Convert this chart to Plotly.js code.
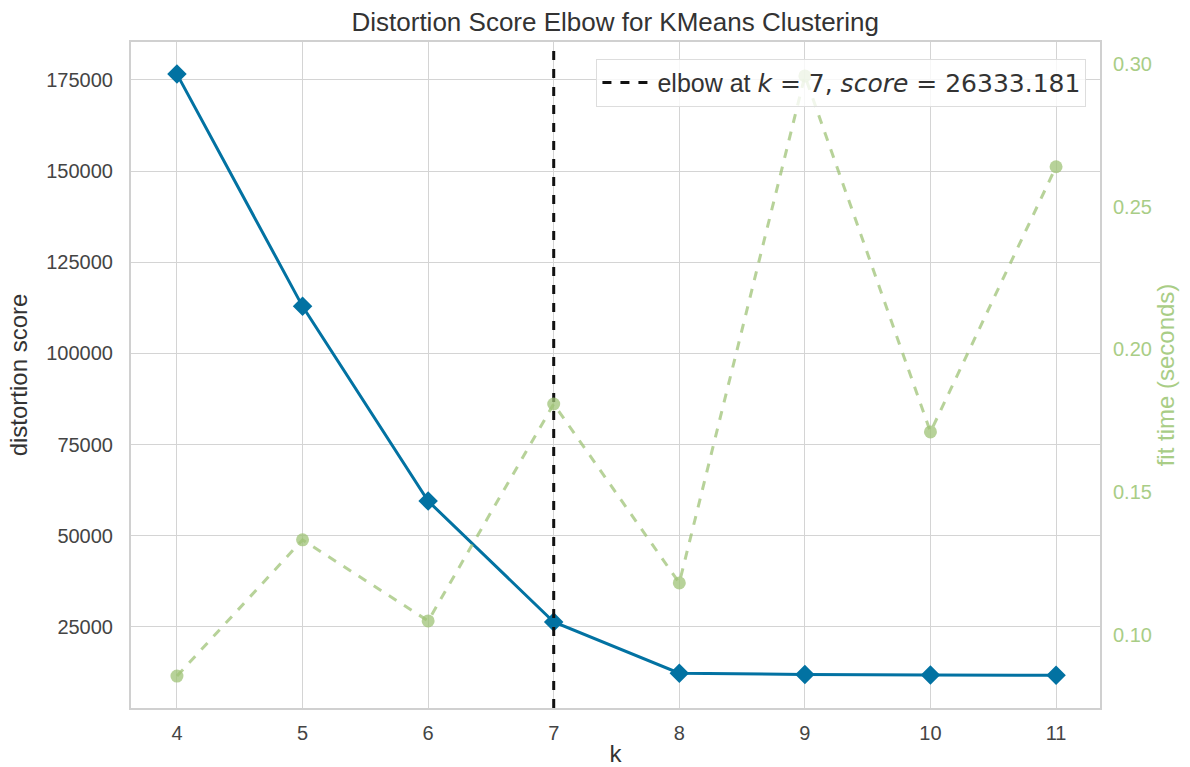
<!DOCTYPE html>
<html>
<head>
<meta charset="utf-8">
<script src="https://cdn.plot.ly/plotly-3.0.1.min.js"></script>
<style>html,body{margin:0;padding:0;background:#fff;}#chart{width:1190px;height:767px;}</style>
</head>
<body>
<div id="chart"></div>
<script>
const kValues = [4, 5, 6, 7, 8, 9, 10, 11];
const distortion = [176600, 112900, 59500, 26333.181, 12300, 11900, 11800, 11700];
const fitTime = [0.0856, 0.1333, 0.1049, 0.1809, 0.1182, 0.2958, 0.1711, 0.2640];
const elbowK = 7;
const elbowScore = 26333.181;
const yTicks = [25000, 50000, 75000, 100000, 125000, 150000, 175000];
const y2Ticks = [0.10, 0.15, 0.20, 0.25, 0.30];

const blue = '#0272a2';
const green = 'rgba(159,195,119,0.75)';
const greenText = '#a9cd86';
const font = 'Liberation Sans, Arial, sans-serif';
const yRange = [2740, 185400];

const mathSpan = '<span style="font-family:DejaVu Sans">';
const traces = [
  {
    x: kValues, y: distortion, type: 'scatter', mode: 'lines+markers',
    line: {color: blue, width: 3},
    marker: {symbol: 'diamond', size: 15, color: blue},
    showlegend: false
  },
  {
    x: kValues, y: fitTime, type: 'scatter', mode: 'lines+markers', yaxis: 'y2',
    line: {color: green, width: 3, dash: 'dash'},
    marker: {symbol: 'circle', size: 13, color: green},
    showlegend: false
  },
  {
    x: [elbowK, elbowK], y: yRange, type: 'scatter', mode: 'lines',
    line: {color: '#111111', width: 3, dash: 'dash'},
    name: 'elbow at ' + mathSpan + '<i>k</i> = ' + elbowK + ', <i>score</i> = ' + elbowScore.toFixed(3) + '</span>',
    showlegend: true
  }
];

const layout = {
  width: 1190, height: 767,
  margin: {l: 131, r: 90, t: 42, b: 59},
  paper_bgcolor: '#ffffff', plot_bgcolor: '#ffffff',
  font: {family: font, color: '#444444', size: 20},
  title: {text: 'Distortion Score Elbow for KMeans Clustering', x: 0.517, xanchor: 'center', y: 0.972, yanchor: 'middle', font: {size: 26, color: '#333333', family: font}},
  xaxis: {
    range: [3.634, 11.35], tickmode: 'array', tickvals: kValues, ticktext: kValues.map(String),
    showgrid: true, gridcolor: '#d4d4d4', gridwidth: 1,
    showline: true, mirror: true, linecolor: '#d0d0d0', linewidth: 2,
    zeroline: false, ticks: '', ticklabelstandoff: 6,
    tickfont: {size: 20, color: '#444444'},
    title: {text: 'k', font: {size: 24, color: '#333333'}, standoff: 10}
  },
  yaxis: {
    range: yRange, tickmode: 'array', tickvals: yTicks, ticktext: yTicks.map(String),
    showgrid: true, gridcolor: '#d4d4d4', gridwidth: 1,
    showline: true, mirror: true, linecolor: '#d0d0d0', linewidth: 2,
    zeroline: false, ticks: '', ticklabelstandoff: 12,
    tickfont: {size: 20, color: '#444444'},
    title: {text: 'distortion score', font: {size: 24, color: '#333333'}, standoff: 12}
  },
  yaxis2: {
    overlaying: 'y', side: 'right', range: [0.0744, 0.3077],
    tickmode: 'array', tickvals: y2Ticks, ticktext: y2Ticks.map(v => v.toFixed(2)),
    showgrid: false, zeroline: false, showline: false, ticks: '', ticklabelstandoff: 12,
    tickfont: {size: 20, color: greenText},
    title: {text: 'fit time (seconds)', font: {size: 24, color: greenText}, standoff: 2}
  },
  legend: {
    x: 0.986, xanchor: 'right', y: 0.975, yanchor: 'top',
    bgcolor: 'rgba(255,255,255,0.8)', bordercolor: '#dddddd', borderwidth: 1,
    font: {size: 25, color: '#333333'}, itemwidth: 50
  }
};

Plotly.newPlot('chart', traces, layout, {displayModeBar: false, staticPlot: true});
</script>
</body>
</html>
